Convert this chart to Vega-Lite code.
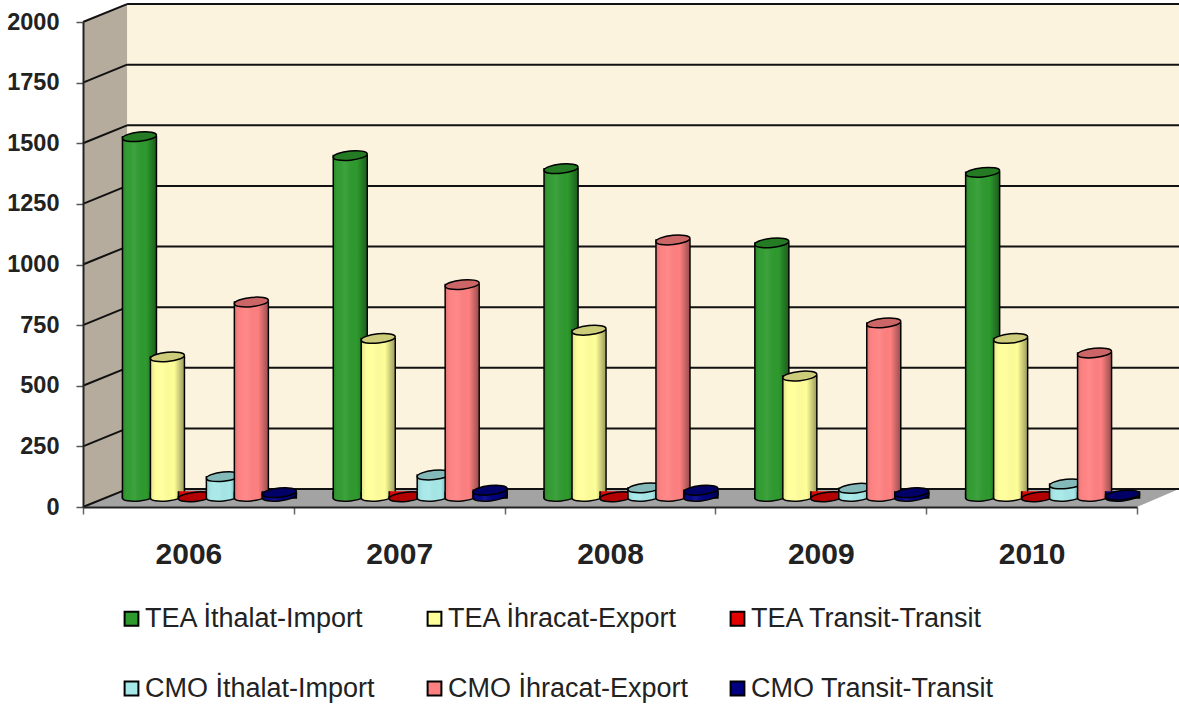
{"$schema":"https://vega.github.io/schema/vega-lite/v6.json","width":1096,"height":504,"autosize":{"type":"none"},"padding":{"left":83,"top":3,"right":0,"bottom":197},"background":"#ffffff",
"params":[{"name":"shadeGrad","value":{"gradient":"linear","x1":0,"x2":1,"y1":0,"y2":0,"stops":[{"offset":0,"color":"rgba(0,0,0,0.12)"},{"offset":0.18,"color":"rgba(255,255,255,0.02)"},{"offset":0.35,"color":"rgba(255,255,255,0.08)"},{"offset":0.7,"color":"rgba(0,0,0,0)"},{"offset":1,"color":"rgba(0,0,0,0.38)"}]}}],
"config":{"view":{"stroke":null}},
"datasets":{"main":[
{"year":"2006","series":"TEA İthalat-Import","value":1490},{"year":"2006","series":"TEA İhracat-Export","value":582},{"year":"2006","series":"TEA Transit-Transit","value":5},{"year":"2006","series":"CMO İthalat-Import","value":88},{"year":"2006","series":"CMO İhracat-Export","value":808},{"year":"2006","series":"CMO Transit-Transit","value":22},
{"year":"2007","series":"TEA İthalat-Import","value":1412},{"year":"2007","series":"TEA İhracat-Export","value":658},{"year":"2007","series":"TEA Transit-Transit","value":5},{"year":"2007","series":"CMO İthalat-Import","value":95},{"year":"2007","series":"CMO İhracat-Export","value":880},{"year":"2007","series":"CMO Transit-Transit","value":32},
{"year":"2008","series":"TEA İthalat-Import","value":1358},{"year":"2008","series":"TEA İhracat-Export","value":692},{"year":"2008","series":"TEA Transit-Transit","value":5},{"year":"2008","series":"CMO İthalat-Import","value":42},{"year":"2008","series":"CMO İhracat-Export","value":1064},{"year":"2008","series":"CMO Transit-Transit","value":32},
{"year":"2009","series":"TEA İthalat-Import","value":1052},{"year":"2009","series":"TEA İhracat-Export","value":503},{"year":"2009","series":"TEA Transit-Transit","value":5},{"year":"2009","series":"CMO İthalat-Import","value":40},{"year":"2009","series":"CMO İhracat-Export","value":722},{"year":"2009","series":"CMO Transit-Transit","value":22},
{"year":"2010","series":"TEA İthalat-Import","value":1343},{"year":"2010","series":"TEA İhracat-Export","value":658},{"year":"2010","series":"TEA Transit-Transit","value":5},{"year":"2010","series":"CMO İthalat-Import","value":58},{"year":"2010","series":"CMO İhracat-Export","value":598},{"year":"2010","series":"CMO Transit-Transit","value":12}],
"ticks":[{"tick":0,"back":74},{"tick":250,"back":324},{"tick":500,"back":574},{"tick":750,"back":824},{"tick":1000,"back":1074},{"tick":1250,"back":1324},{"tick":1500,"back":1574},{"tick":1750,"back":1824},{"tick":2000,"back":2074}],
"diag":[{"tick":0,"d":0,"lvl":0},{"tick":0,"d":0.209,"lvl":74},{"tick":250,"d":0,"lvl":250},{"tick":250,"d":0.209,"lvl":324},{"tick":500,"d":0,"lvl":500},{"tick":500,"d":0.209,"lvl":574},{"tick":750,"d":0,"lvl":750},{"tick":750,"d":0.209,"lvl":824},{"tick":1000,"d":0,"lvl":1000},{"tick":1000,"d":0.209,"lvl":1074},{"tick":1250,"d":0,"lvl":1250},{"tick":1250,"d":0.209,"lvl":1324},{"tick":1500,"d":0,"lvl":1500},{"tick":1500,"d":0.209,"lvl":1574},{"tick":1750,"d":0,"lvl":1750},{"tick":1750,"d":0.209,"lvl":1824},{"tick":2000,"d":0,"lvl":2000},{"tick":2000,"d":0.209,"lvl":2074}]},
"data":{"name":"main"},
"resolve":{"scale":{"x":"independent","y":"independent"},"axis":{"x":"independent","y":"independent"}},
"layer":[
{"encoding":{"x":{"type":"quantitative","axis":null,"scale":{"domain":[0,5],"range":[0,1054],"nice":false,"zero":false}},"y":{"type":"quantitative","scale":{"domain":[0,2000],"range":[504,19],"nice":false,"zero":false}}},
"layer":[
{"data":{"values":[{"a":0.209,"b":5.2,"lo":74,"hi":2074}]},"mark":{"type":"rect","color":"#FCF3DE"},"encoding":{"x":{"field":"a","type":"quantitative"},"x2":{"field":"b"},"y":{"field":"lo","type":"quantitative"},"y2":{"field":"hi"}}},
{"data":{"values":[{"d":0,"lo":0,"hi":2000},{"d":0.209,"lo":74,"hi":2074}]},"mark":{"type":"area","color":"#B5AC9E","orient":"vertical"},"encoding":{"x":{"field":"d","type":"quantitative"},"y":{"field":"lo","type":"quantitative","axis":{"values":[0,250,500,750,1000,1250,1500,1750,2000],"format":"d","title":null,"grid":false,"zindex":1,"domainColor":"#222222","domainWidth":2,"tickColor":"#555555","tickSize":7,"tickWidth":1.5,"labelPadding":17,"labelFont":"Liberation Sans","labelFontWeight":"bold","labelFontSize":23.5,"labelColor":"#222222","labelOverlap":false,"labelBound":false,"labelFlush":false}},"y2":{"field":"hi"}}},
{"data":{"values":[{"d":0,"lo":0,"hi":0},{"d":0.209,"lo":0,"hi":74},{"d":5,"lo":0,"hi":74},{"d":5.2,"lo":74,"hi":74}]},"mark":{"type":"area","color":"#A3A3A3","orient":"vertical"},"encoding":{"x":{"field":"d","type":"quantitative"},"y":{"field":"lo","type":"quantitative"},"y2":{"field":"hi"}}},
{"data":{"name":"ticks"},"mark":{"type":"rule","color":"#111111","strokeWidth":2},"encoding":{"x":{"datum":0.209,"type":"quantitative"},"x2":{"datum":5.2},"y":{"field":"back","type":"quantitative"}}},
{"data":{"name":"diag"},"mark":{"type":"line","color":"#111111","strokeWidth":2},"encoding":{"x":{"field":"d","type":"quantitative"},"y":{"field":"lvl","type":"quantitative"},"detail":{"field":"tick"}}}
]},
{"mark":{"type":"point","opacity":0},"encoding":{"x":{"field":"year","type":"nominal","scale":{"type":"band","range":[0,1054],"paddingInner":0,"paddingOuter":0},"axis":{"title":null,"labelAngle":0,"tickBand":"extent","zindex":1,"domainColor":"#222222","domainWidth":2,"tickColor":"#666666","tickSize":7,"tickWidth":1.5,"labelPadding":25,"labelFont":"Liberation Sans","labelFontWeight":"bold","labelFontSize":30,"labelColor":"#222222"}}}},
{"encoding":{"x":{"field":"year","type":"nominal","axis":null,"scale":{"type":"band","range":[21,1075],"paddingInner":0,"paddingOuter":0}},"xOffset":{"field":"series","type":"nominal","scale":{"domain":["TEA İthalat-Import","TEA İhracat-Export","TEA Transit-Transit","CMO İthalat-Import","CMO İhracat-Export","CMO Transit-Transit"],"paddingInner":0,"paddingOuter":0.767}},"y":{"field":"value","type":"quantitative","axis":null,"stack":null,"scale":{"domain":[0,2000],"range":[495,10],"nice":false,"zero":false}}},
"layer":[
{"transform":[{"filter":{"field":"series","equal":"TEA İthalat-Import"}}],"layer":[{"mark":{"type":"bar","width":34,"stroke":"#000000","strokeWidth":1.5},"encoding":{"color":{"field":"series","type":"nominal","scale":{"domain":["TEA İthalat-Import","TEA İhracat-Export","TEA Transit-Transit","CMO İthalat-Import","CMO İhracat-Export","CMO Transit-Transit"],"range":["#2E9A2E","#FFFF99","#E00000","#A6E8E8","#FF8080","#000080"]},"legend":{"title":null,"orient":"none","direction":"horizontal","gridAlign":"all","legendX":35,"legendY":602,"columns":3,"symbolType":"square","symbolSize":190,"symbolStrokeColor":"#222222","symbolStrokeWidth":2,"labelFont":"Liberation Sans","labelFontSize":27,"labelColor":"#222222","labelOffset":0,"rowPadding":42,"columnPadding":33,"labelLimit":400}}}},{"mark":{"type":"bar","width":33,"fill":{"expr":"shadeGrad"}}},{"mark":{"type":"point","filled":true,"size":1156,"opacity":1,"shape":"M-1,-0.4L-1,0A1,0.27,-6,0,0,1,-0.2L1,-0.4","stroke":"#000000","strokeWidth":1.5},"encoding":{"y":{"datum":0,"type":"quantitative"},"color":{"field":"series","type":"nominal"}}},{"mark":{"type":"point","filled":true,"size":1156,"opacity":1,"shape":"M-1,-0.4L-1,0A1,0.27,-6,0,0,1,-0.2L1,-0.4","fill":{"expr":"shadeGrad"}},"encoding":{"y":{"datum":0,"type":"quantitative"}}},{"mark":{"type":"point","filled":true,"size":1156,"opacity":1,"shape":"M-1,0.1A1,0.27,-6,1,1,1,-0.1A1,0.27,-6,1,1,-1,0.1Z","stroke":"#000000","strokeWidth":1.5},"encoding":{"color":{"field":"series","type":"nominal"}}},{"mark":{"type":"point","filled":true,"size":1156,"opacity":1,"shape":"M-1,0.1A1,0.27,-6,1,1,1,-0.1A1,0.27,-6,1,1,-1,0.1Z","fill":"#000000","fillOpacity":0.2}}]},
{"transform":[{"filter":{"field":"series","equal":"TEA İhracat-Export"}}],"layer":[{"mark":{"type":"bar","width":34,"stroke":"#000000","strokeWidth":1.5},"encoding":{"color":{"field":"series","type":"nominal"}}},{"mark":{"type":"bar","width":33,"fill":{"expr":"shadeGrad"}}},{"mark":{"type":"point","filled":true,"size":1156,"opacity":1,"shape":"M-1,-0.4L-1,0A1,0.27,-6,0,0,1,-0.2L1,-0.4","stroke":"#000000","strokeWidth":1.5},"encoding":{"y":{"datum":0,"type":"quantitative"},"color":{"field":"series","type":"nominal"}}},{"mark":{"type":"point","filled":true,"size":1156,"opacity":1,"shape":"M-1,-0.4L-1,0A1,0.27,-6,0,0,1,-0.2L1,-0.4","fill":{"expr":"shadeGrad"}},"encoding":{"y":{"datum":0,"type":"quantitative"}}},{"mark":{"type":"point","filled":true,"size":1156,"opacity":1,"shape":"M-1,0.1A1,0.27,-6,1,1,1,-0.1A1,0.27,-6,1,1,-1,0.1Z","stroke":"#000000","strokeWidth":1.5},"encoding":{"color":{"field":"series","type":"nominal"}}},{"mark":{"type":"point","filled":true,"size":1156,"opacity":1,"shape":"M-1,0.1A1,0.27,-6,1,1,1,-0.1A1,0.27,-6,1,1,-1,0.1Z","fill":"#000000","fillOpacity":0.2}}]},
{"transform":[{"filter":{"field":"series","equal":"TEA Transit-Transit"}}],"layer":[{"mark":{"type":"bar","width":34,"stroke":"#000000","strokeWidth":1.5},"encoding":{"color":{"field":"series","type":"nominal"}}},{"mark":{"type":"bar","width":33,"fill":{"expr":"shadeGrad"}}},{"mark":{"type":"point","filled":true,"size":1156,"opacity":1,"shape":"M-1,-0.4L-1,0A1,0.27,-6,0,0,1,-0.2L1,-0.4","stroke":"#000000","strokeWidth":1.5},"encoding":{"y":{"datum":0,"type":"quantitative"},"color":{"field":"series","type":"nominal"}}},{"mark":{"type":"point","filled":true,"size":1156,"opacity":1,"shape":"M-1,-0.4L-1,0A1,0.27,-6,0,0,1,-0.2L1,-0.4","fill":{"expr":"shadeGrad"}},"encoding":{"y":{"datum":0,"type":"quantitative"}}},{"mark":{"type":"point","filled":true,"size":1156,"opacity":1,"shape":"M-1,0.1A1,0.27,-6,1,1,1,-0.1A1,0.27,-6,1,1,-1,0.1Z","stroke":"#000000","strokeWidth":1.5},"encoding":{"color":{"field":"series","type":"nominal"}}},{"mark":{"type":"point","filled":true,"size":1156,"opacity":1,"shape":"M-1,0.1A1,0.27,-6,1,1,1,-0.1A1,0.27,-6,1,1,-1,0.1Z","fill":"#000000","fillOpacity":0.2}}]},
{"transform":[{"filter":{"field":"series","equal":"CMO İthalat-Import"}}],"layer":[{"mark":{"type":"bar","width":34,"stroke":"#000000","strokeWidth":1.5},"encoding":{"color":{"field":"series","type":"nominal"}}},{"mark":{"type":"bar","width":33,"fill":{"expr":"shadeGrad"}}},{"mark":{"type":"point","filled":true,"size":1156,"opacity":1,"shape":"M-1,-0.4L-1,0A1,0.27,-6,0,0,1,-0.2L1,-0.4","stroke":"#000000","strokeWidth":1.5},"encoding":{"y":{"datum":0,"type":"quantitative"},"color":{"field":"series","type":"nominal"}}},{"mark":{"type":"point","filled":true,"size":1156,"opacity":1,"shape":"M-1,-0.4L-1,0A1,0.27,-6,0,0,1,-0.2L1,-0.4","fill":{"expr":"shadeGrad"}},"encoding":{"y":{"datum":0,"type":"quantitative"}}},{"mark":{"type":"point","filled":true,"size":1156,"opacity":1,"shape":"M-1,0.1A1,0.27,-6,1,1,1,-0.1A1,0.27,-6,1,1,-1,0.1Z","stroke":"#000000","strokeWidth":1.5},"encoding":{"color":{"field":"series","type":"nominal"}}},{"mark":{"type":"point","filled":true,"size":1156,"opacity":1,"shape":"M-1,0.1A1,0.27,-6,1,1,1,-0.1A1,0.27,-6,1,1,-1,0.1Z","fill":"#000000","fillOpacity":0.2}}]},
{"transform":[{"filter":{"field":"series","equal":"CMO İhracat-Export"}}],"layer":[{"mark":{"type":"bar","width":34,"stroke":"#000000","strokeWidth":1.5},"encoding":{"color":{"field":"series","type":"nominal"}}},{"mark":{"type":"bar","width":33,"fill":{"expr":"shadeGrad"}}},{"mark":{"type":"point","filled":true,"size":1156,"opacity":1,"shape":"M-1,-0.4L-1,0A1,0.27,-6,0,0,1,-0.2L1,-0.4","stroke":"#000000","strokeWidth":1.5},"encoding":{"y":{"datum":0,"type":"quantitative"},"color":{"field":"series","type":"nominal"}}},{"mark":{"type":"point","filled":true,"size":1156,"opacity":1,"shape":"M-1,-0.4L-1,0A1,0.27,-6,0,0,1,-0.2L1,-0.4","fill":{"expr":"shadeGrad"}},"encoding":{"y":{"datum":0,"type":"quantitative"}}},{"mark":{"type":"point","filled":true,"size":1156,"opacity":1,"shape":"M-1,0.1A1,0.27,-6,1,1,1,-0.1A1,0.27,-6,1,1,-1,0.1Z","stroke":"#000000","strokeWidth":1.5},"encoding":{"color":{"field":"series","type":"nominal"}}},{"mark":{"type":"point","filled":true,"size":1156,"opacity":1,"shape":"M-1,0.1A1,0.27,-6,1,1,1,-0.1A1,0.27,-6,1,1,-1,0.1Z","fill":"#000000","fillOpacity":0.2}}]},
{"transform":[{"filter":{"field":"series","equal":"CMO Transit-Transit"}}],"layer":[{"mark":{"type":"bar","width":34,"stroke":"#000000","strokeWidth":1.5},"encoding":{"color":{"field":"series","type":"nominal"}}},{"mark":{"type":"bar","width":33,"fill":{"expr":"shadeGrad"}}},{"mark":{"type":"point","filled":true,"size":1156,"opacity":1,"shape":"M-1,-0.4L-1,0A1,0.27,-6,0,0,1,-0.2L1,-0.4","stroke":"#000000","strokeWidth":1.5},"encoding":{"y":{"datum":0,"type":"quantitative"},"color":{"field":"series","type":"nominal"}}},{"mark":{"type":"point","filled":true,"size":1156,"opacity":1,"shape":"M-1,-0.4L-1,0A1,0.27,-6,0,0,1,-0.2L1,-0.4","fill":{"expr":"shadeGrad"}},"encoding":{"y":{"datum":0,"type":"quantitative"}}},{"mark":{"type":"point","filled":true,"size":1156,"opacity":1,"shape":"M-1,0.1A1,0.27,-6,1,1,1,-0.1A1,0.27,-6,1,1,-1,0.1Z","stroke":"#000000","strokeWidth":1.5},"encoding":{"color":{"field":"series","type":"nominal"}}},{"mark":{"type":"point","filled":true,"size":1156,"opacity":1,"shape":"M-1,0.1A1,0.27,-6,1,1,1,-0.1A1,0.27,-6,1,1,-1,0.1Z","fill":"#000000","fillOpacity":0.2}}]}
]}
]}
